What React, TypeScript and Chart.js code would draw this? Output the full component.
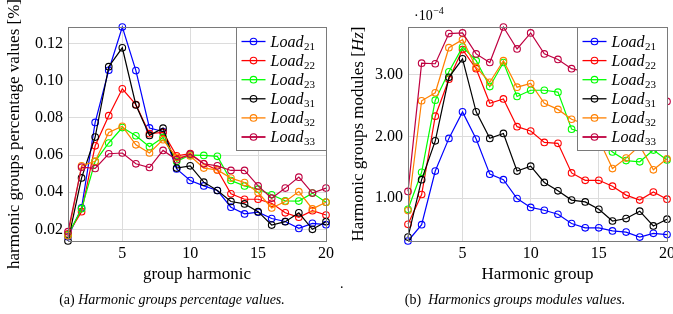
import React, { useEffect, useRef } from "react";
import { Chart, registerables } from "chart.js";
Chart.register(...registerables);

const harmonicGroups = [1, 2, 3, 4, 5, 6, 7, 8, 9, 10, 11, 12, 13, 14, 15, 16, 17, 18, 19, 20];
const loadNames = ["21", "22", "23", "31", "32", "33"];
const loadColors = ["#0000ff", "#ff0000", "#00ff00", "#000000", "#ff8000", "#bf0040"];

// (a) percentage values
const pctLoad21 = [0.016, 0.0315, 0.0776, 0.1057, 0.129, 0.1055, 0.0746, 0.0727, 0.0525, 0.0463, 0.0434, 0.0409, 0.0319, 0.0283, 0.0292, 0.0258, 0.0242, 0.0205, 0.0232, 0.0225];
const pctLoad22 = [0.0175, 0.0295, 0.065, 0.0812, 0.0957, 0.0872, 0.0715, 0.0722, 0.0596, 0.0608, 0.0553, 0.052, 0.0391, 0.0362, 0.0362, 0.034, 0.0289, 0.0265, 0.03, 0.0277];
const pctLoad23 = [0.017, 0.0311, 0.0566, 0.0665, 0.0748, 0.0704, 0.0645, 0.0695, 0.0566, 0.06, 0.0598, 0.0593, 0.0463, 0.0434, 0.0416, 0.0386, 0.0353, 0.0352, 0.0395, 0.0346];
const pctLoad31 = [0.0137, 0.0477, 0.0697, 0.1076, 0.1178, 0.087, 0.0706, 0.0745, 0.053, 0.0542, 0.0454, 0.0409, 0.035, 0.0337, 0.0295, 0.0223, 0.0241, 0.0289, 0.02, 0.0241];
const pctLoad32 = [0.0165, 0.0542, 0.0566, 0.0722, 0.0755, 0.0655, 0.0611, 0.0683, 0.0588, 0.0595, 0.053, 0.052, 0.0476, 0.0452, 0.0398, 0.0315, 0.035, 0.0403, 0.031, 0.0346];
const pctLoad33 = [0.0187, 0.0535, 0.0528, 0.0607, 0.0611, 0.0553, 0.0533, 0.0625, 0.0575, 0.0605, 0.0553, 0.0542, 0.0517, 0.0517, 0.0434, 0.0368, 0.0422, 0.0481, 0.0395, 0.0422];

// (b) modules values (x 10^-4)
const modLoad21 = [0.306, 0.57, 1.44, 1.97, 2.4, 1.96, 1.39, 1.3, 0.995, 0.85, 0.805, 0.74, 0.59, 0.52, 0.52, 0.47, 0.45, 0.37, 0.43, 0.41];
const modLoad22 = [0.577, 1.06, 2.33, 2.93, 3.41, 3.1, 2.54, 2.61, 2.16, 2.09, 1.905, 1.89, 1.41, 1.29, 1.29, 1.195, 1.05, 0.97, 1.1, 0.984];
const modLoad23 = [0.82, 1.42, 2.59, 3.05, 3.45, 3.23, 2.81, 3.2, 2.65, 2.75, 2.75, 2.72, 2.12, 2.05, 1.95, 1.75, 1.61, 1.59, 1.78, 1.62];
const modLoad31 = [0.37, 1.3, 1.93, 2.96, 3.26, 2.4, 1.97, 2.05, 1.44, 1.52, 1.255, 1.12, 0.97, 0.94, 0.82, 0.63, 0.67, 0.79, 0.55, 0.66];
const modLoad32 = [0.8, 2.58, 2.71, 3.44, 3.57, 3.12, 2.88, 3.23, 2.8, 2.86, 2.54, 2.44, 2.28, 2.2, 1.95, 1.48, 1.65, 1.85, 1.46, 1.64];
const modLoad33 = [1.11, 3.19, 3.18, 3.67, 3.68, 3.34, 3.2, 3.776, 3.42, 3.68, 3.34, 3.25, 3.1, 3.05, 2.95, 2.85, 2.9, 2.75, 2.7, 2.57];

const xTickValues = [5, 10, 15, 20];
const pctYTicks = [0.02, 0.04, 0.06, 0.08, 0.1, 0.12];
const modYTicks = [1, 2, 3];

const SERIF = "'Liberation Serif', 'Times New Roman', serif";

const framePlugin = {
  id: "frameAndLegend",
  afterDatasetsDraw(chart: any) {
    const { ctx, chartArea: a } = chart;
    ctx.save();
    ctx.strokeStyle = "#7a7a7a";
    ctx.lineWidth = 1;
    ctx.strokeRect(Math.round(a.left) + 0.5, Math.round(a.top) + 0.5, Math.round(a.right - a.left), Math.round(a.bottom - a.top));
    const w = 90;
    const h = 123;
    const lx = Math.round(a.right - w) + 0.5;
    const ly = Math.round(a.top) + 0.5;
    ctx.fillStyle = "#ffffff";
    ctx.fillRect(lx, ly, w, h);
    ctx.strokeRect(lx, ly, w, h);
    chart.data.datasets.forEach((ds: any, i: number) => {
      const cy = ly + 14 + i * 19.1;
      ctx.strokeStyle = ds.borderColor;
      ctx.lineWidth = i === 5 ? 1.8 : 1.3;
      ctx.beginPath();
      ctx.moveTo(lx + 5, cy);
      ctx.lineTo(lx + 29, cy);
      ctx.stroke();
      ctx.lineWidth = 1.1;
      ctx.beginPath();
      ctx.arc(lx + 17, cy, 3.3, 0, Math.PI * 2);
      ctx.stroke();
      ctx.fillStyle = "#000";
      ctx.textBaseline = "alphabetic";
      ctx.textAlign = "left";
      ctx.font = `italic 16px ${SERIF}`;
      ctx.fillText("Load", lx + 34, cy + 5);
      const tw = ctx.measureText("Load").width;
      ctx.font = `11px ${SERIF}`;
      ctx.fillText(loadNames[i], lx + 34 + tw + 0.5, cy + 8);
    });
    ctx.restore();
  },
};

const extraTextPlugin = {
  id: "extraText",
  afterDraw(chart: any) {
    const opt = chart.options.plugins.extraText;
    if (!opt) return;
    const { ctx, chartArea: a } = chart;
    ctx.save();
    ctx.fillStyle = "#000";
    ctx.textBaseline = "alphabetic";
    ctx.textAlign = "left";
    // exponent marker
    ctx.font = `14px ${SERIF}`;
    const x = a.left + 6;
    ctx.fillText("\u00b710", x, 20);
    const tw = ctx.measureText("\u00b710").width;
    ctx.font = `10px ${SERIF}`;
    ctx.fillText("\u22124", x + tw + 0.5, 14);
    // y title with italic unit
    const parts = [
      { t: opt.titleMain, f: `17px ${SERIF}` },
      { t: opt.titleUnit, f: `italic 17px ${SERIF}` },
      { t: "]", f: `17px ${SERIF}` },
    ];
    let total = 0;
    parts.forEach((p) => {
      ctx.font = p.f;
      total += ctx.measureText(p.t).width;
    });
    ctx.translate(19, (a.top + a.bottom) / 2);
    ctx.rotate(-Math.PI / 2);
    ctx.textBaseline = "middle";
    let cx = -total / 2;
    parts.forEach((p) => {
      ctx.font = p.f;
      ctx.fillText(p.t, cx, 0);
      cx += ctx.measureText(p.t).width;
    });
    ctx.restore();
  },
};

function makeConfig(series: number[][], yTicks: number[], fmt: (v: number) => string, yTitle: string, xTitle: string, yTitlePad: number, padRight: number, extra: any) {
  const all = series.flat();
  const yMin = Math.min(...all);
  const yMax = Math.max(...all);
  return {
    type: "line",
    data: {
      labels: harmonicGroups,
      datasets: series.map((vals, i) => ({
        label: "Load" + loadNames[i],
        data: vals.map((v, k) => ({ x: harmonicGroups[k], y: v })),
        borderColor: loadColors[i],
        backgroundColor: loadColors[i],
        borderWidth: 1.2,
        pointRadius: 3.3,
        pointBorderWidth: 1.1,
        pointBackgroundColor: "rgba(0,0,0,0)",
        pointBorderColor: loadColors[i],
        tension: 0,
        clip: false,
        order: 5 - i,
      })),
    },
    options: {
      animation: false,
      responsive: false,
      events: [],
      layout: { padding: { left: 0, right: padRight, top: 27, bottom: 0 } },
      plugins: { legend: { display: false }, tooltip: { enabled: false }, extraText: extra },
      scales: {
        x: {
          type: "linear",
          min: 1,
          max: 20,
          afterBuildTicks: (s: any) => {
            s.ticks = xTickValues.map((v) => ({ value: v }));
          },
          afterFit: (s: any) => {
            s.height = 73;
          },
          ticks: { color: "#000", font: { family: SERIF, size: 16 }, padding: 3, maxRotation: 0, autoSkip: false, callback: (v: any) => String(v) },
          grid: { color: "#dcdcdc", drawTicks: false, lineWidth: 1 },
          border: { display: false },
          title: { display: true, text: xTitle, color: "#000", font: { family: SERIF, size: 17 }, padding: { top: 0, bottom: 29 } },
        },
        y: {
          type: "linear",
          min: yMin,
          max: yMax,
          afterBuildTicks: (s: any) => {
            s.ticks = yTicks.map((v) => ({ value: v }));
          },
          afterFit: (s: any) => {
            s.width = 68;
          },
          ticks: { color: "#000", font: { family: SERIF, size: 16 }, padding: 5, callback: (v: any) => fmt(Number(v)) },
          grid: { color: "#dcdcdc", drawTicks: false, lineWidth: 1 },
          border: { display: false },
          title: { display: !!yTitle, text: yTitle, color: "#000", font: { family: SERIF, size: 17 }, padding: { top: yTitlePad, bottom: 0 } },
        },
      },
    },
    plugins: [framePlugin, extraTextPlugin],
  };
}

function LineChart({ config, width, height, left }: any) {
  const ref = useRef<HTMLCanvasElement | null>(null);
  useEffect(() => {
    if (!ref.current) return;
    const chart = new Chart(ref.current, config as any);
    return () => chart.destroy();
  }, []);
  return <canvas ref={ref} width={width} height={height} style={{ position: "absolute", left, top: 0, width, height }} />;
}

export default function App() {
  const cfgA = makeConfig(
    [pctLoad21, pctLoad22, pctLoad23, pctLoad31, pctLoad32, pctLoad33],
    pctYTicks,
    (v) => v.toFixed(2),
    "harmonic groups percentage values [%]",
    "group harmonic",
    4,
    14,
    null
  );
  const cfgB = makeConfig(
    [modLoad21, modLoad22, modLoad23, modLoad31, modLoad32, modLoad33],
    modYTicks,
    (v) => v.toFixed(2),
    "",
    "Harmonic group",
    9,
    23,
    { titleMain: "Harmonic groups modules [", titleUnit: "Hz" }
  );
  const capStyle: any = { position: "absolute", top: 292, fontFamily: SERIF, fontSize: 14, lineHeight: "16px", textAlign: "center", whiteSpace: "nowrap", color: "#000" };
  return (
    <div style={{ position: "absolute", left: 0, top: 0, width: 673, height: 314, overflow: "hidden", background: "#fff" }}>
      <LineChart config={cfgA} width={340} height={314} left={0} />
      <LineChart config={cfgB} width={350} height={314} left={340} />
      <div style={{ ...capStyle, left: 22, width: 300 }}>
        (a) <i>Harmonic groups percentage values.</i>
      </div>
      <div style={{ ...capStyle, left: 365, width: 300 }}>
        (b)&nbsp; <i>Harmonics groups modules values.</i>
      </div>
      <div style={{ position: "absolute", left: 340, top: 276, fontFamily: SERIF, fontSize: 14, lineHeight: "16px" }}>.</div>
    </div>
  );
}
